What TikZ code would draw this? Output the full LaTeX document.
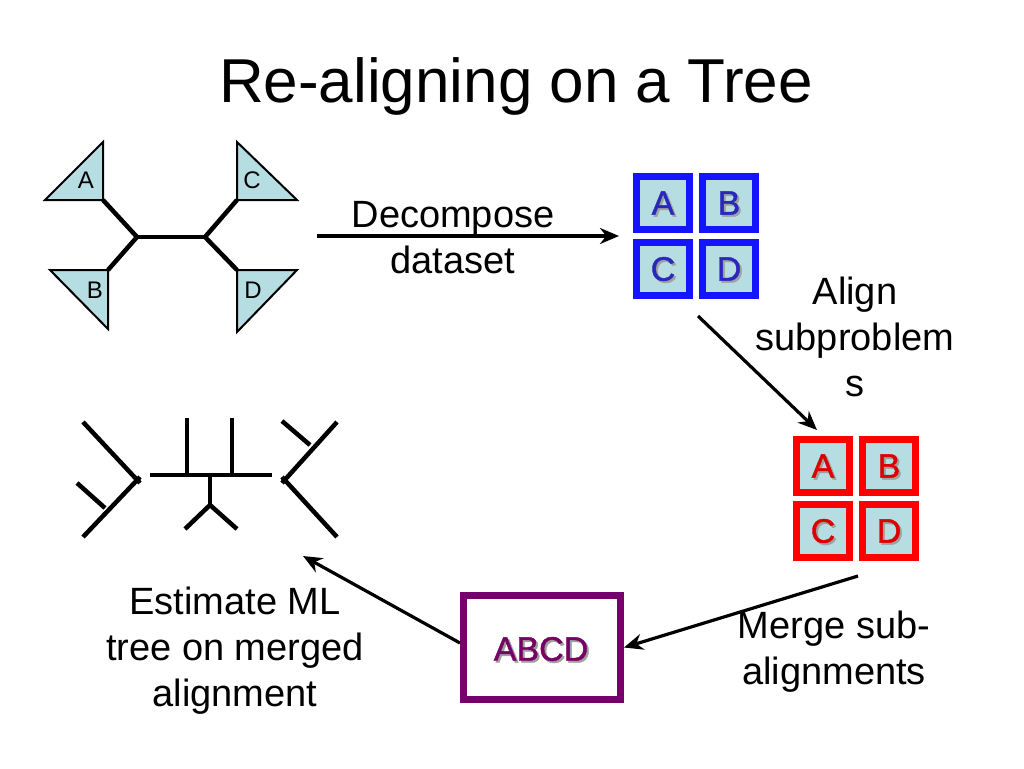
\documentclass[tikz,border=0pt]{standalone}
\usepackage{fontspec}
\setmainfont{Liberation Sans}
\newfontfamily\boxfont[FakeBold=1.2]{Liberation Sans}
\usetikzlibrary{arrows.meta}
\definecolor{lblue}{RGB}{182,221,226}
\definecolor{bborder}{RGB}{20,20,255}
\definecolor{bletter}{RGB}{40,40,190}
\definecolor{rborder}{RGB}{255,0,0}
\definecolor{rletter}{RGB}{220,0,0}
\definecolor{pborder}{RGB}{118,0,108}
\definecolor{pletter}{RGB}{120,0,100}
\definecolor{shadowgray}{RGB}{160,160,160}
\tikzset{
  lbl/.style={font=\fontsize{38}{46}\selectfont, align=center, inner sep=0pt},
  tri/.style={draw=black, fill=lblue, line width=2pt, line join=miter},
  br/.style={line width=4.5pt, line cap=butt},
  conn/.style={line width=3.2pt, -{Stealth[length=19pt,width=16pt]}},
  sq/.style={draw=#1, line width=7pt, fill=lblue, minimum width=53pt, minimum height=53pt, inner sep=0pt},
  letr/.style={font=\boxfont\fontsize{34}{34}\selectfont, text=#1, inner sep=0pt},
  shad/.style={font=\boxfont\fontsize{34}{34}\selectfont, text=shadowgray, inner sep=0pt},
  small/.style={font=\fontsize{24}{24}\selectfont, inner sep=0pt}
}
\begin{document}
\begin{tikzpicture}[x=1pt,y=-1pt]
\useasboundingbox (0,0) rectangle (1024,768);
% title
\node[font=\fontsize{62}{62}\selectfont, inner sep=0pt] (title) at (516,86) {Re-aligning on a Tree};

% top-left tree
\coordinate (ja) at (103,200);
\coordinate (jb) at (108,270);
\coordinate (jc) at (237,200);
\coordinate (jd) at (237,270);
\coordinate (j1) at (137,237);
\coordinate (j2) at (205,237);
\draw[br] (ja) -- (j1) -- (jb);
\draw[br] (jc) -- (j2) -- (jd);
\draw[br] (j1) -- (j2);
\draw[tri] (45,200) -- (103,142) -- (103,200) -- cycle;
\draw[tri] (237,142) -- (237,200) -- (297,200) -- cycle;
\draw[tri] (50,270) -- (108,270) -- (108,329) -- cycle;
\draw[tri] (237,270) -- (297,270) -- (237,332) -- cycle;
\node[small] (ta) at (86,180) {A};
\node[small] (tc) at (252,180) {C};
\node[small] (tb) at (95,290) {B};
\node[small] (td) at (253,290) {D};

% decompose arrow
\coordinate (d1) at (317,236);
\coordinate (d2) at (619,236);
\draw[conn] (d1) -- (d2);
\node[lbl] (decomp) at (453,238) {Decompose\\dataset};

% blue squares
\node[sq=bborder] (bA) at (663,203) {};
\node[sq=bborder] (bB) at (729,203) {};
\node[sq=bborder] (bC) at (663,269) {};
\node[sq=bborder] (bD) at (729,269) {};
\foreach \n/\t in {bA/A,bB/B,bC/C,bD/D}{
  \node[shad] at ([shift={(2,2)}]\n.center) {\t};
  \node[letr=bletter] at (\n.center) {\t};
}

% align arrow
\coordinate (a1) at (698,316);
\coordinate (a2) at (817,430);
\draw[conn] (a1) -- (a2);
\node[lbl] (align) at (855,337) {Align\\subproblem\\s};

% red squares
\node[sq=rborder] (rA) at (823,466) {};
\node[sq=rborder] (rB) at (889,466) {};
\node[sq=rborder] (rC) at (823,531) {};
\node[sq=rborder] (rD) at (889,531) {};
\foreach \n/\t in {rA/A,rB/B,rC/C,rD/D}{
  \node[shad] at ([shift={(2,2)}]\n.center) {\t};
  \node[letr=rletter] at (\n.center) {\t};
}

% merge box
\node[draw=pborder, line width=7pt, minimum width=157pt, minimum height=104pt, inner sep=0pt] (abcd) at (542,647.5) {};
\node[shad] at (543,651) {ABCD};
\node[letr=pletter] (abcdt) at (541,649) {ABCD};
\coordinate (m1) at (858,576);
\draw[conn] (m1) -- (abcd.east);
\node[lbl] (merge) at (834,652) {Merge sub-\\alignments};

% estimate arrow
\coordinate (e2) at (303,556);
\draw[conn] (abcd.west |- 0,643) -- (e2);
\node[lbl] (est) at (235,651) {Estimate ML\\tree on merged\\alignment};

% bottom-left tree
\draw[br] (83,422) -- (140,483);
\draw[br] (83,537) -- (140,477);
\draw[br] (77,483) -- (105,508);
\draw[br] (150,475) -- (272,475);
\draw[br] (187,418) -- (187,475);
\draw[br] (232,418) -- (232,475);
\draw[br] (210,475) -- (210,505);
\draw[br] (185,529) -- (210,505) -- (237,529);
\draw[br] (282,483) -- (337,422);
\draw[br] (282,477) -- (337,537);
\draw[br] (282,421) -- (310,445);
\end{tikzpicture}
\end{document}
